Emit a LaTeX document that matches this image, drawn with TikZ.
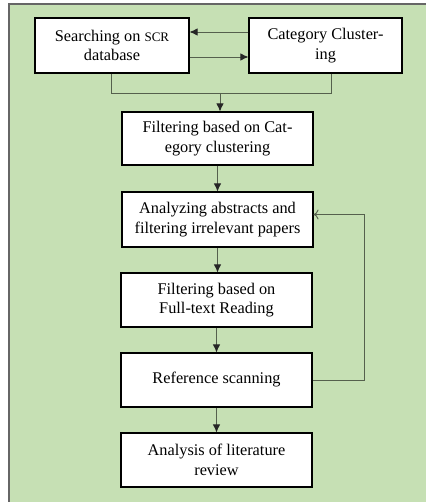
\documentclass[tikz,border=0pt]{standalone}
\usepackage{fontspec}
\setmainfont{Liberation Serif}
\usetikzlibrary{arrows.meta,calc}
\definecolor{bggreen}{HTML}{C6E0B4}
\definecolor{linec}{HTML}{55604D}
\tikzset{
  stepbox/.style={draw=black, line width=1.1pt, fill=white, minimum width=191pt, minimum height=54pt, align=center, inner sep=1pt, font=\fontsize{16.3}{19.5}\selectfont},
  conn/.style={draw=linec, line width=0.9pt},
  arr/.style={conn, -{Latex[length=8pt,width=7.5pt,color=black!85]}},
  openarr/.style={conn, -{To[length=5pt,width=10pt]}}
}
\begin{document}
\begin{tikzpicture}[x=1pt,y=-1pt]
\useasboundingbox (0,0) rectangle (426,502);
\fill[white] (0,0) rectangle (426,502);
\fill[bggreen] (9,4) rectangle (426,502);
\draw[draw=gray!80!black, line width=1.1pt] (9,502) -- (9,4) -- (426,4);

\node[stepbox, minimum width=154pt, minimum height=55pt] (search) at (112,45.5) {Searching on {\fontsize{13}{19.5}\selectfont SCR}\\database};
\node[stepbox, minimum width=153pt, minimum height=55pt] (cat) at (325.5,45.5) {Category Cluster-\\ing};
\node[stepbox, minimum height=53pt] (filt1) at (217.5,138.5) {Filtering based on Cat-\\egory clustering};
\node[stepbox, minimum height=55pt] (anal) at (217.5,219.5) {Analyzing abstracts and\\filtering irrelevant papers};
\node[stepbox] (filt2) at (216.5,300) {Filtering based on\\Full-text Reading};
\node[stepbox] (ref) at (216.5,380) {Reference scanning};
\node[stepbox] (lit) at (216.5,460) {Analysis of literature\\review};

\draw[arr] ($(cat.west)+(0,-13.5)$) -- ($(search.east)+(0,-13.5)$);
\draw[arr] ($(search.east)+(0,11.5)$) -- ($(cat.west)+(0,11.5)$);

\coordinate (m) at (220,93);
\draw[conn] ($(search.south)+(-1,0)$) |- (m);
\draw[conn] ($(cat.south)+(5.5,0)$) |- (m);
\draw[arr] (m) -- (m |- filt1.north);

\draw[arr] (filt1) -- (filt1 |- anal.north);
\draw[arr] (anal.south) -- (anal.south |- filt2.north);
\draw[arr] (filt2) -- (ref);
\draw[arr] (ref) -- (lit);

\coordinate (fbtop) at (364,214.5);
\draw[openarr] (ref.east) -| (fbtop) -- (anal.east |- fbtop);
\end{tikzpicture}
\end{document}
